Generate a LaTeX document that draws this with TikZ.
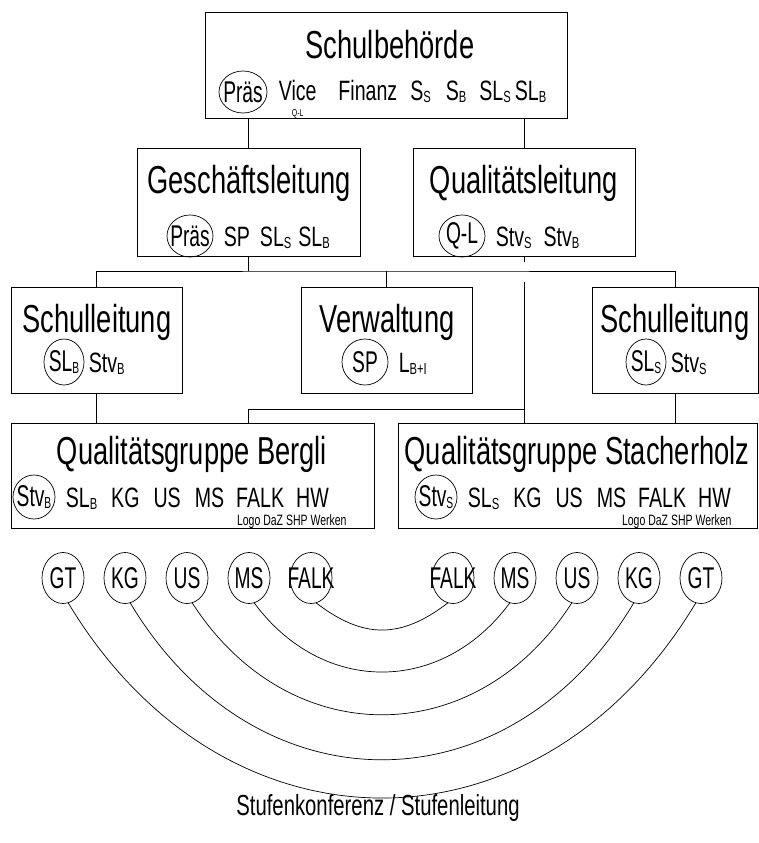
\documentclass[tikz,border=0pt]{standalone}
\usepackage{fontspec}
\setmainfont{Liberation Sans}[FakeStretch=0.70]
\newfontfamily\narrowfont{Liberation Sans}[FakeStretch=0.64]
\usetikzlibrary{shapes.geometric,positioning,calc}

\newcommand{\lowsub}[1]{\raisebox{-2pt}{\fontsize{16}{16}\selectfont #1}}
\newcommand{\fitin}[1]{\makebox[0pt]{#1}}

\begin{document}
\begin{tikzpicture}[x=1pt,y=-1pt,line width=0.9pt,
    orgbox/.style={draw, rectangle, inner sep=0pt},
    boxtitle/.style={font=\fontsize{39}{44}\selectfont, inner sep=0pt, anchor=base},
    itemrow/.style={font=\fontsize{28}{32}\selectfont, inner sep=0pt, anchor=base west},
    member/.style={draw, ellipse, inner sep=0pt, line width=0.7pt, font=\narrowfont\fontsize{30}{34}\selectfont},
    smalltext/.style={font=\fontsize{15}{17}\selectfont, inner sep=0pt},
    arcline/.style={line width=0.7pt}]

    \useasboundingbox (0,0) rectangle (759,843);

    % Schulbehoerde
    \node[orgbox, minimum width=362, minimum height=106] (behoerde) at (386,65) {};
    \node[boxtitle] (behoerdetitle) at (390,59) {Schulbehörde};
    \node[member, minimum width=48, minimum height=42] (praes1) at (243,92) {\fitin{Präs}};
    \node[itemrow] (vice) at ([shift={(11,8)}]praes1.east) {Vice};
    \node[smalltext, font=\fontsize{10}{11}\selectfont, anchor=base] (vicesub) at ([yshift=-16pt]vice.base) {Q-L};
    \node[itemrow] (row1) at ([xshift=21pt]vice.base east) {Finanz\hspace{13pt}S\lowsub{S}\hspace{15pt}S\lowsub{B}\hspace{13pt}SL\lowsub{S}\hspace{4pt}SL\lowsub{B}};

    % Geschaeftsleitung / Qualitaetsleitung
    \node[orgbox, minimum width=223, minimum height=108] (gl) at (248.5,202) {};
    \node[boxtitle] (gltitle) at (249,193) {Geschäftsleitung};
    \node[member, minimum width=46, minimum height=42] (praes2) at (190,236) {\fitin{Präs}};
    \node[itemrow] (row2) at ([shift={(10,10)}]praes2.east) {SP\hspace{10pt}SL\lowsub{S}\hspace{7pt}SL\lowsub{B}};

    \node[orgbox, minimum width=222, minimum height=108] (ql) at (524,202) {};
    \node[boxtitle] (qltitle) at (524,193) {Qualitätsleitung};
    \node[member, minimum width=46, minimum height=42] (qlead) at (462,236) {\fitin{Q-L}};
    \node[itemrow] (row3) at ([shift={(10,10)}]qlead.east) {Stv\lowsub{S}\hspace{12pt}Stv\lowsub{B}};

    % Schulleitungen und Verwaltung
    \node[orgbox, minimum width=171, minimum height=106] (slb) at (96.5,340) {};
    \node[boxtitle] (slbtitle) at (97,332) {Schulleitung};
    \node[member, minimum width=40, minimum height=46] (slbhead) at (64,362) {\fitin{SL\lowsub{B}}};
    \node[itemrow] (row4) at ([shift={(4,10)}]slbhead.east) {Stv\lowsub{B}};

    \node[orgbox, minimum width=171, minimum height=106] (verw) at (386.5,340) {};
    \node[boxtitle] (verwtitle) at (387,332) {Verwaltung};
    \node[member, minimum width=46, minimum height=46] (verwhead) at (365,362) {\fitin{SP}};
    \node[itemrow] (row5) at ([shift={(10,10)}]verwhead.east) {L\lowsub{B+I}};

    \node[orgbox, minimum width=166, minimum height=106] (sls) at (675,340) {};
    \node[boxtitle] (slstitle) at (675,332) {Schulleitung};
    \node[member, minimum width=40, minimum height=46] (slshead) at (646,362) {\fitin{SL\lowsub{S}}};
    \node[itemrow] (row6) at ([shift={(4,10)}]slshead.east) {Stv\lowsub{S}};

    % Qualitaetsgruppen
    \node[orgbox, minimum width=363, minimum height=105] (qgb) at (192.5,475.5) {};
    \node[boxtitle] (qgbtitle) at (192,464) {Qualitätsgruppe Bergli};
    \node[member, minimum width=42, minimum height=44] (qgbhead) at (34,497) {\fitin{Stv\lowsub{B}}};
    \node[itemrow] (row7) at ([shift={(10,10)}]qgbhead.east) {SL\lowsub{B}\hspace{14pt}KG\hspace{14pt}US\hspace{14pt}MS\hspace{12pt}FALK\hspace{12pt}HW};
    \node[smalltext, anchor=base east] (logob) at (347,525) {Logo DaZ SHP Werken};

    \node[orgbox, minimum width=359, minimum height=105] (qgs) at (577.5,475.5) {};
    \node[boxtitle] (qgstitle) at (577,464) {Qualitätsgruppe Stacherholz};
    \node[member, minimum width=42, minimum height=44] (qgshead) at (436,497) {\fitin{Stv\lowsub{S}}};
    \node[itemrow] (row8) at ([shift={(10,10)}]qgshead.east) {SL\lowsub{S}\hspace{14pt}KG\hspace{14pt}US\hspace{14pt}MS\hspace{12pt}FALK\hspace{12pt}HW};
    \node[smalltext, anchor=base east] (logos) at (732,525) {Logo DaZ SHP Werken};

    % Verbindungen
    \coordinate (bus) at (386,271);
    \coordinate (link) at (248,409);
    \coordinate (jump) at (524,271);
    \draw (behoerde.south -| gl.north) -- (gl.north);
    \draw (behoerde.south -| ql.north) -- (ql.north);
    \draw (gl.south) -- (gl.south |- bus);
    \draw (slb.north) |- (bus) -| (sls.north);
    \draw (verw.north) -- (verw.north |- bus);
    \draw (ql.south) -- ([yshift=9pt]jump);
    \draw ([yshift=-11pt]jump) -- (jump |- qgs.north);
    \draw (link -| ql.south) -- (link) -- (link |- qgb.north);
    \draw (slb.south) -- (slb.south |- qgb.north);
    \draw (sls.south) -- (sls.south |- qgs.north);

    % Stufen
    \foreach \t [count=\i] in {GT,KG,US,MS,FALK} {
        \node[member, minimum width=42, minimum height=51] (l\i) at (1+62*\i,578) {\fitin{\t}};
        \node[member, minimum width=42, minimum height=51] (r\i) at (763-62*\i,578) {\fitin{\t}};
    }
    \foreach \i/\a/\b in {1/156/260,2/125/209,3/96/149,4/68/92,5/47/36}
        \draw[arcline] (l\i.-78) .. controls +(\a,\b) and +(-\a,\b) .. (r\i.-102);

    \node[font=\fontsize{29}{33}\selectfont, inner sep=0pt, anchor=base] (stufen) at (378,815) {Stufenkonferenz / Stufenleitung};
\end{tikzpicture}
\end{document}
